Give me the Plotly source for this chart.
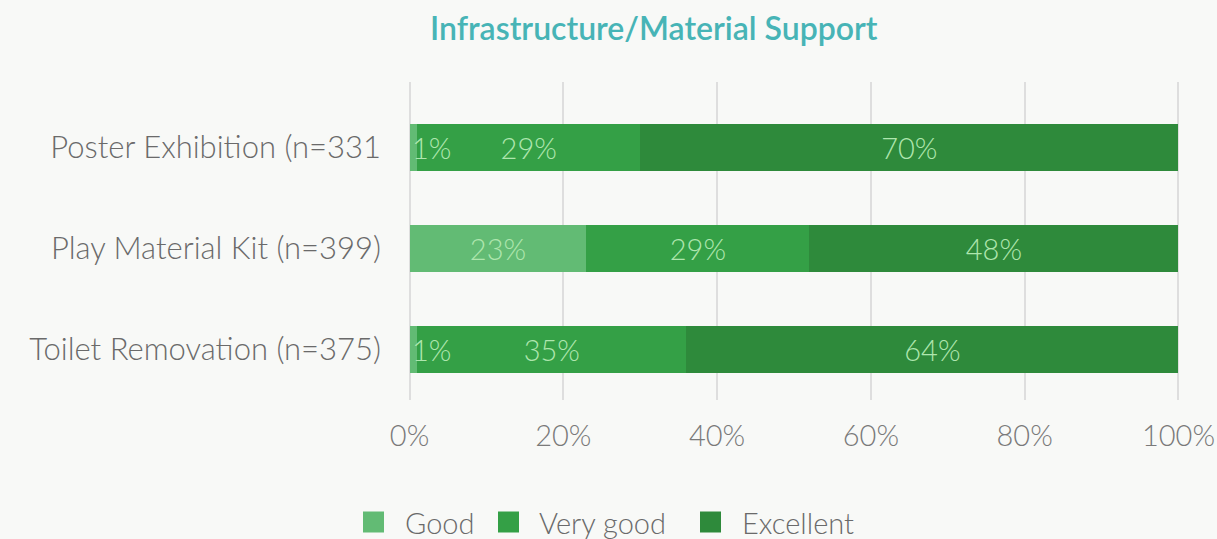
import plotly.graph_objects as go

# Survey ratings per support item (percent of respondents)
categories = ["Poster Exhibition (n=331", "Play Material Kit (n=399)", "Toilet Removation (n=375)"]
good = [1, 23, 1]
very_good = [29, 29, 35]
excellent = [70, 48, 64]

series_names = ["Good", "Very good", "Excellent"]
series_colors = ["#62bb74", "#34a046", "#2e8a3b"]
x_ticks = [0, 20, 40, 60, 80, 100]
x_tick_text = ["0%", "20%", "40%", "60%", "80%", "100%"]
title_text = "Infrastructure/Material Support"

FONT = "Lato"
BG = "#f8f9f7"
LABEL_COLOR = "#aee6ae"
TEXT_GRAY = "#6a6a6a"
MIN_INSIDE = 3  # values below this get their label placed from the bar start

W, H = 1217, 539
M_L, M_R, M_T, M_B = 408, 37, 82, 139
PLOT_W = W - M_L - M_R
PLOT_H = H - M_T - M_B


def px_to_paper_x(px):
    return (px - M_L) / PLOT_W


def px_to_paper_y(py):
    return (H - M_B - py) / PLOT_H


fig = go.Figure()
for name, values, color in zip(series_names, [good, very_good, excellent], series_colors):
    texts = [f"{v}%" if v >= MIN_INSIDE else "" for v in values]
    fig.add_trace(go.Bar(
        name=name,
        y=categories,
        x=values,
        orientation="h",
        marker=dict(color=color, line=dict(width=0)),
        text=texts,
        texttemplate="%{text}",
        textposition="inside",
        insidetextanchor="middle",
        textfont=dict(family=FONT, size=29, color=LABEL_COLOR, weight=300),
        hoverinfo="skip",
        showlegend=False,
    ))

# Narrow segments: label starts at the bar's left end and spills over
for cat, v in zip(categories, good):
    if v < MIN_INSIDE:
        fig.add_annotation(
            x=0, y=cat, xref="x", yref="y", text=f"{v}%",
            showarrow=False, xanchor="left", xshift=0,
            font=dict(family=FONT, size=29, color=LABEL_COLOR, weight=300),
        )

# Title
fig.add_annotation(
    x=0.319, y=1.17, xref="paper", yref="paper", text=title_text,
    showarrow=False, xanchor="center", yanchor="middle",
    font=dict(family=FONT, size=32, color="#47b4b6", weight=600),
)

# Legend drawn as square swatches with labels, centred under the chart
swatch_left = [363, 498, 700]
label_left = [403, 537, 740]
legend_y = 522
swatch = 21
for name, color, sx, lx in zip(series_names, series_colors, swatch_left, label_left):
    fig.add_shape(
        type="rect", xref="paper", yref="paper",
        x0=px_to_paper_x(sx), x1=px_to_paper_x(sx + swatch),
        y0=px_to_paper_y(legend_y + swatch / 2), y1=px_to_paper_y(legend_y - swatch / 2),
        fillcolor=color, line=dict(width=0),
    )
    fig.add_annotation(
        x=px_to_paper_x(lx), y=px_to_paper_y(legend_y), xref="paper", yref="paper",
        text=name, showarrow=False, xanchor="left", yanchor="middle",
        font=dict(family=FONT, size=29, color=TEXT_GRAY, weight=300),
    )

fig.update_layout(
    width=W, height=H,
    margin=dict(l=M_L, r=M_R, t=M_T, b=M_B, autoexpand=False),
    paper_bgcolor=BG, plot_bgcolor=BG,
    barmode="stack",
    bargap=0.535,
    uniformtext=dict(mode="show", minsize=29),
    showlegend=False,
    xaxis=dict(
        range=[-0.2, 100.2], tickvals=x_ticks, ticktext=x_tick_text,
        showgrid=True, gridcolor="#dedede", gridwidth=2,
        zeroline=False, showline=False, automargin=False,
        tickfont=dict(family=FONT, size=29, color="#7a7a7a", weight=300),
        ticklabelstandoff=16,
    ),
    yaxis=dict(
        type="category", categoryorder="array", categoryarray=categories,
        range=[2.5, -0.649], automargin=False,
        showgrid=False, zeroline=False, showline=False,
        tickfont=dict(family=FONT, size=31, color=TEXT_GRAY, weight=300),
        ticklabelstandoff=26,
    ),
)

fig.write_html("out.html")
